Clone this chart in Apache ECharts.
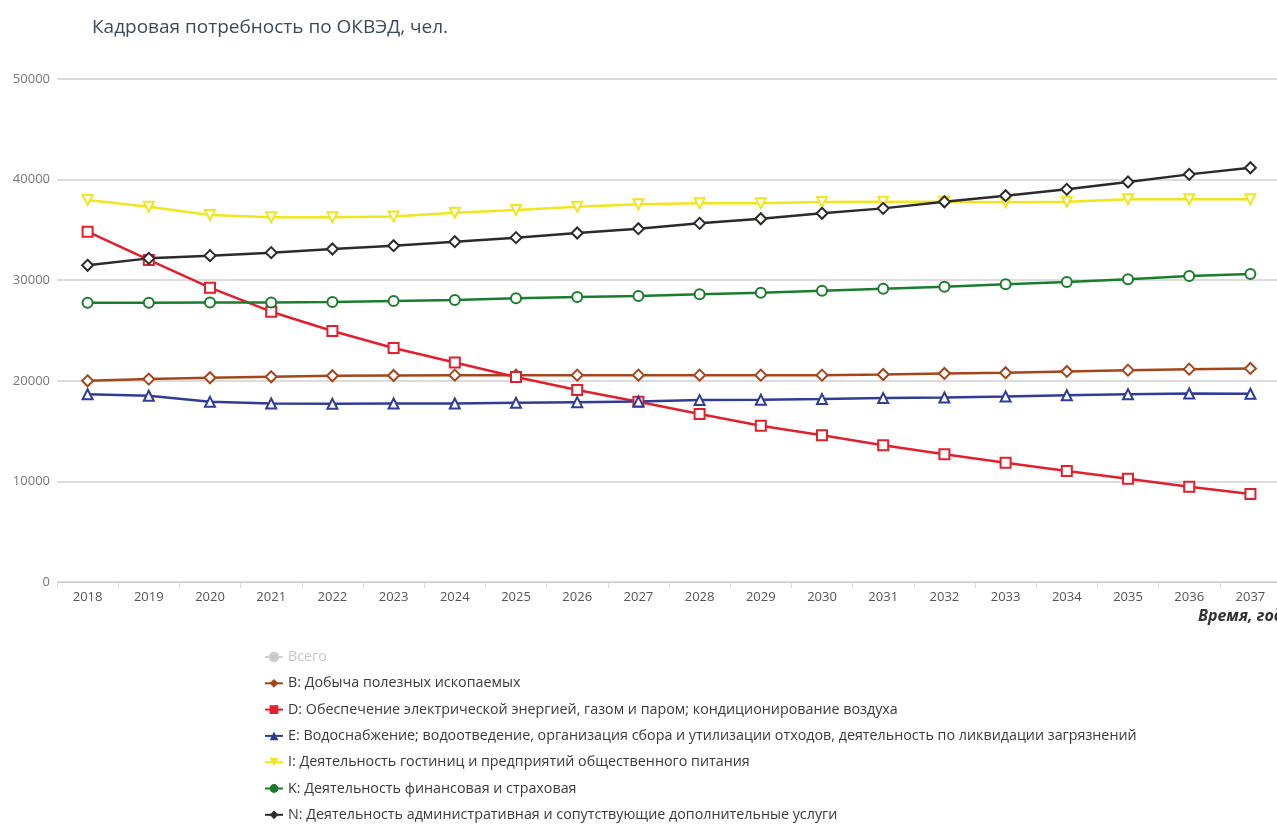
<!DOCTYPE html>
<html>
<head>
<meta charset="utf-8">
<script src="https://cdn.jsdelivr.net/npm/echarts@6/dist/echarts.min.js"></script>
<style>html,body{margin:0;padding:0;background:#fff;}#chart{width:1277px;height:825px;}</style>
</head>
<body>
<div id="chart"></div>
<script>
const years = ['2018','2019','2020','2021','2022','2023','2024','2025','2026','2027','2028','2029','2030','2031','2032','2033','2034','2035','2036','2037'];
const yTicks = [0, 10000, 20000, 30000, 40000, 50000];

const seriesNames = [
  'Всего',
  'B: Добыча полезных ископаемых',
  'D: Обеспечение электрической энергией, газом и паром; кондиционирование воздуха',
  'E: Водоснабжение; водоотведение, организация сбора и утилизации отходов, деятельность по ликвидации загрязнений',
  'I: Деятельность гостиниц и предприятий общественного питания',
  'K: Деятельность финансовая и страховая',
  'N: Деятельность административная и сопутствующие дополнительные услуги'
];

const totalValues = [];
const bValues = [20000,20170,20300,20400,20500,20530,20560,20560,20560,20560,20560,20560,20560,20630,20730,20800,20930,21060,21160,21230];
const dValues = [34820,32010,29260,26870,24950,23260,21820,20380,19090,17920,16700,15540,14580,13590,12690,11860,11030,10270,9470,8750];
const eValues = [18670,18510,17910,17750,17710,17750,17750,17810,17880,17940,18080,18110,18180,18280,18340,18440,18570,18670,18740,18710];
const iValues = [37970,37300,36480,36250,36250,36320,36710,36980,37310,37540,37640,37640,37770,37800,37800,37750,37800,38040,38040,38040];
const kValues = [27760,27760,27790,27790,27830,27930,28030,28200,28330,28430,28600,28760,28960,29160,29360,29590,29820,30090,30420,30620];
const nValues = [31480,32170,32440,32740,33100,33430,33830,34230,34690,35120,35650,36110,36650,37140,37800,38400,39030,39760,40520,41180];

const colors = ['#b8b8b8', '#a3461c', '#e2202c', '#2f3c98', '#f0e61e', '#1a7d2e', '#2b2b2b'];
const symbols = ['circle', 'diamond', 'rect', 'triangle', 'triangle', 'circle', 'diamond'];
const rotations = [0, 0, 0, 0, 180, 0, 0];
const dataSets = [totalValues, bValues, dValues, eValues, iValues, kValues, nValues];

const font = "'Open Sans', 'Noto Sans', sans-serif";

const chart = echarts.init(document.getElementById('chart'), null, {renderer: 'canvas'});

const series = seriesNames.map((name, i) => ({
  name: name,
  type: 'line',
  data: dataSets[i],
  symbol: symbols[i],
  symbolRotate: rotations[i],
  symbolSize: symbols[i] === 'diamond' ? 11 : 10,
  showAllSymbol: true,
  color: colors[i],
  lineStyle: {color: colors[i], width: 2.5},
  itemStyle: {color: '#ffffff', borderColor: colors[i], borderWidth: 2},
  emphasis: {disabled: true},
  animation: false
}));

const legendData = seriesNames.map((name, i) => ({
  name: name,
  itemStyle: {color: colors[i], borderWidth: 0},
  lineStyle: {color: colors[i], width: 2}
}));

chart.setOption({
  backgroundColor: '#ffffff',
  animation: false,
  title: {
    text: 'Кадровая потребность по ОКВЭД, чел.',
    left: 87,
    top: 13,
    textStyle: {fontFamily: font, fontSize: 19, fontWeight: 'normal', color: '#3e4a5b'}
  },
  legend: {
    orient: 'vertical',
    left: 264,
    top: 649,
    height: 180,
    padding: 0,
    itemWidth: 18,
    itemHeight: 11,
    itemGap: 10.3,
    data: legendData,
    selected: {'Всего': false},
    inactiveColor: '#c8c8c8',
    textStyle: {fontFamily: font, fontSize: 14.3, color: '#3a3a3a', lineHeight: 16}
  },
  grid: {left: 57, top: 79, width: 1224, height: 503, containLabel: false, outerBoundsMode: 'none'},
  xAxis: {
    type: 'category',
    data: years,
    boundaryGap: true,
    name: 'Время, год',
    nameLocation: 'end',
    nameGap: -83,
    nameTextStyle: {fontFamily: font, fontSize: 16, fontWeight: 'bold', fontStyle: 'italic', color: '#333', align: 'left', verticalAlign: 'top', padding: [26, 0, 0, 0]},
    axisLine: {show: true, lineStyle: {color: '#cfcfcf', width: 1}},
    axisTick: {show: true, alignWithLabel: false, length: 6, lineStyle: {color: '#d8d8d8'}},
    axisLabel: {fontFamily: font, fontSize: 13, color: '#555', margin: 9, interval: 0},
    splitLine: {show: false}
  },
  yAxis: {
    type: 'value',
    min: yTicks[0],
    max: yTicks[yTicks.length - 1],
    interval: yTicks[1] - yTicks[0],
    axisLine: {show: false},
    axisTick: {show: false},
    axisLabel: {fontFamily: font, fontSize: 13, color: '#777', margin: 7, formatter: v => String(v)},
    splitLine: {show: true, lineStyle: {color: '#d0d0d0', width: 1.5}}
  },
  series: series
});
</script>
</body>
</html>
